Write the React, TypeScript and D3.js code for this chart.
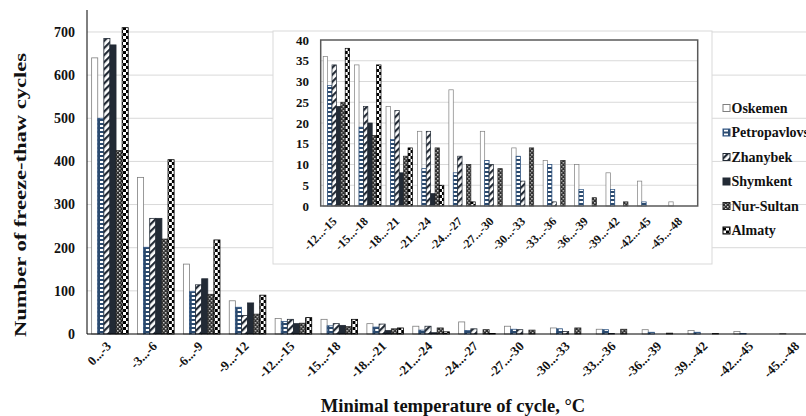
import React from 'react';
import * as d3 from 'd3';

const categories = ['0...-3', '-3...-6', '-6...-9', '-9...-12', '-12...-15', '-15...-18', '-18...-21', '-21...-24',
  '-24...-27', '-27...-30', '-30...-33', '-33...-36', '-36...-39', '-39...-42', '-42...-45', '-45...-48'];
const insetCategories = categories.slice(4);

const oskemen = [640, 363, 162, 77, 36, 34, 24, 18, 28, 18, 14, 11, 10, 8, 6, 1];
const petropavlovsk = [500, 201, 98, 62, 29, 19, 16, 9, 8, 11, 12, 10, 4, 4, 1, 0];
const zhanybek = [685, 268, 114, 43, 34, 24, 23, 18, 12, 10, 6, 1, 0, 0, 0, 0];
const shymkent = [670, 268, 128, 72, 24, 20, 8, 3, 0, 0, 0, 0, 0, 0, 0, 0];
const nurSultan = [425, 220, 92, 46, 25, 17, 12, 14, 10, 9, 14, 11, 2, 1, 0, 0];
const almaty = [710, 404, 218, 90, 38, 34, 14, 5, 1, 0, 0, 0, 0, 0, 0, 0];

const yTicks = [0, 100, 200, 300, 400, 500, 600, 700];
const insetYTicks = [0, 5, 10, 15, 20, 25, 30, 35, 40];

const series = [
  { name: 'Oskemen', values: oskemen, fill: '#ffffff', stroke: '#7f7f7f' },
  { name: 'Petropavlovsk', values: petropavlovsk, fill: 'url(#pPetro)', stroke: '#2f5584' },
  { name: 'Zhanybek', values: zhanybek, fill: 'url(#pZhan)', stroke: '#222a35' },
  { name: 'Shymkent', values: shymkent, fill: '#222a35', stroke: '#222a35' },
  { name: 'Nur-Sultan', values: nurSultan, fill: 'url(#pNur)', stroke: '#262626' },
  { name: 'Almaty', values: almaty, fill: 'url(#pAlm)', stroke: '#000000' },
];

const font = '"Liberation Serif", "Times New Roman", serif';

export default function App() {
  // main chart scales
  const x0 = d3.scaleBand<string>().domain(categories).range([87, 821]);
  const x1 = d3.scaleBand<string>().domain(series.map(s => s.name)).range([0, x0.bandwidth()]).paddingOuter(0.76);
  const y = d3.scaleLinear().domain([0, 750]).range([334, 10.4]);

  // inset scales
  const ix0 = d3.scaleBand<string>().domain(insetCategories).range([320.7, 697.7]);
  const ix1 = d3.scaleBand<string>().domain(series.map(s => s.name)).range([0, ix0.bandwidth()]).paddingOuter(0.57);
  const iy = d3.scaleLinear().domain([0, 40]).range([206, 40]);

  return (
    <div style={{ position: 'fixed', left: 0, top: 0 }}>
      <svg width={806} height={416} style={{ display: 'block', background: '#fff' }} fontFamily={font}>
        <defs>
          <pattern id="pPetro" patternUnits="userSpaceOnUse" width={6} height={4}>
            <rect width={6} height={4} fill="#2b4a6e" />
            <rect x={1} y={1} width={4} height={2} fill="#ffffff" />
          </pattern>
          <pattern id="pZhan" patternUnits="userSpaceOnUse" width={5} height={5} patternTransform="rotate(45)">
            <rect width={5} height={5} fill="#ffffff" />
            <rect width={2.2} height={5} fill="#222a35" />
          </pattern>
          <pattern id="pNur" patternUnits="userSpaceOnUse" width={4} height={4}>
            <rect width={4} height={4} fill="#2e2e2e" />
            <rect x={0} y={0} width={1.5} height={1.5} fill="#d0d0d0" />
            <rect x={2} y={2} width={1.5} height={1.5} fill="#d0d0d0" />
          </pattern>
          <pattern id="pAlm" patternUnits="userSpaceOnUse" width={6} height={6}>
            <rect width={6} height={6} fill="#000" />
            <rect x={0} y={0} width={3} height={3} fill="#fff" />
            <rect x={3} y={3} width={3} height={3} fill="#fff" />
          </pattern>
        </defs>

        {/* main gridlines */}
        {yTicks.filter(t => t > 0).map(t => (
          <line key={t} x1={87} x2={821} y1={y(t)} y2={y(t)} stroke="#d9d9d9" strokeWidth={1} />
        ))}

        {/* main bars */}
        {categories.map((c, i) => (
          <g key={c} transform={`translate(${x0(c)},0)`}>
            {series.map(s => s.values[i] > 0 && (
              <rect key={s.name} x={x1(s.name)} y={y(s.values[i])} width={x1.bandwidth()}
                height={y(0) - y(s.values[i])} fill={s.fill} stroke={s.stroke} strokeWidth={0.8} />
            ))}
          </g>
        ))}

        {/* axes */}
        <line x1={87} x2={87} y1={10} y2={334} stroke="#000" strokeWidth={1} />
        <line x1={87} x2={821} y1={334} y2={334} stroke="#000" strokeWidth={1.2} />

        {yTicks.map(t => (
          <text key={t} x={75} y={y(t)} dy="0.35em" textAnchor="end" fontSize={14} fontWeight="bold" fill="#111">{t}</text>
        ))}
        {categories.map(c => (
          <text key={c} transform={`translate(${x0(c)! + x0.bandwidth() / 2 + 2},347) rotate(-45)`}
            textAnchor="end" fontSize={13} fontWeight="bold" fill="#111">{c}</text>
        ))}

        <text transform="translate(26,195) rotate(-90)" textAnchor="middle" fontSize={16} fontWeight="bold"
          textLength={284} lengthAdjust="spacingAndGlyphs" fill="#111">Number of freeze-thaw cycles</text>
        <text x={453} y={412} textAnchor="middle" fontSize={18.5} fontWeight="bold" fill="#111">
          Minimal temperature of cycle, °C
        </text>

        {/* inset */}
        <rect x={273} y={31} width={439} height={233} fill="#fff" stroke="#d9d9d9" strokeWidth={1} />
        {insetYTicks.filter(t => t > 0 && t < 40).map(t => (
          <line key={t} x1={320.7} x2={697.7} y1={iy(t)} y2={iy(t)} stroke="#d9d9d9" strokeWidth={1} />
        ))}
        {insetCategories.map((c, j) => (
          <g key={c} transform={`translate(${ix0(c)},0)`}>
            {series.map(s => s.values[j + 4] > 0 && (
              <rect key={s.name} x={ix1(s.name)} y={iy(s.values[j + 4])} width={ix1.bandwidth()}
                height={iy(0) - iy(s.values[j + 4])} fill={s.fill} stroke={s.stroke} strokeWidth={0.7} />
            ))}
          </g>
        ))}
        <rect x={320.7} y={40} width={377} height={166} fill="none" stroke="#595959" strokeWidth={1.5} />
        {insetYTicks.map(t => (
          <text key={t} x={309} y={iy(t)} dy="0.35em" textAnchor="end" fontSize={13} fontWeight="bold" fill="#111">{t}</text>
        ))}
        {insetCategories.map(c => (
          <text key={c} transform={`translate(${ix0(c)! + ix0.bandwidth() / 2 + 1},222) rotate(-45)`}
            textAnchor="end" fontSize={12} fontWeight="bold" fill="#111">{c}</text>
        ))}

        {/* legend */}
        {series.map((s, k) => (
          <g key={s.name} transform={`translate(723,${108 + k * 24.5})`}>
            <rect x={0} y={-3.5} width={7} height={7} fill={s.fill} stroke={s.stroke} strokeWidth={1} />
            <text x={8.5} y={0} dy="0.35em" fontSize={14} fontWeight="bold" fill="#111">{s.name}</text>
          </g>
        ))}
      </svg>
    </div>
  );
}
